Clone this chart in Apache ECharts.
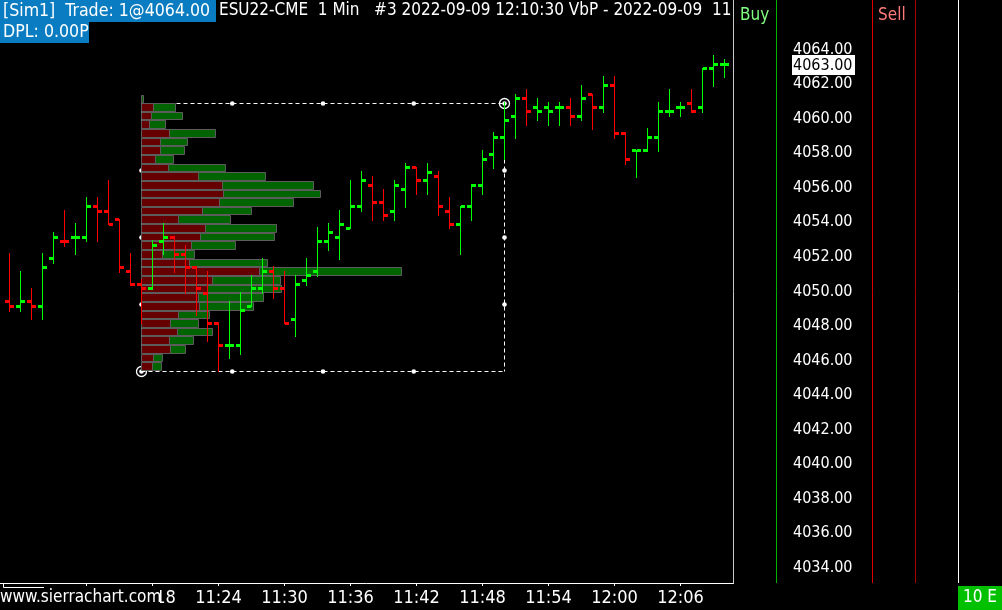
<!DOCTYPE html>
<html>
<head>
<meta charset="utf-8">
<script src="https://cdn.jsdelivr.net/npm/echarts@6/dist/echarts.min.js"></script>
<style>
html,body{margin:0;padding:0;background:#000;}
#c{width:1002px;height:610px;}
</style>
</head>
<body>
<div id="c"></div>
<script>
// ---------- DATA ----------
const times = ['11:05','11:06','11:07','11:08','11:09','11:10','11:11','11:12','11:13','11:14',
  '11:15','11:16','11:17','11:18','11:19','11:20','11:21','11:22','11:23','11:24',
  '11:25','11:26','11:27','11:28','11:29','11:30','11:31','11:32','11:33','11:34',
  '11:35','11:36','11:37','11:38','11:39','11:40','11:41','11:42','11:43','11:44',
  '11:45','11:46','11:47','11:48','11:49','11:50','11:51','11:52','11:53','11:54',
  '11:55','11:56','11:57','11:58','11:59','12:00','12:01','12:02','12:03','12:04',
  '12:05','12:06','12:07','12:08','12:09','12:10'];
const opens = [4049.25,4049,4049.25,4049,4051.75,4052.75,4053,4053,4054.75,4054.5,
  4054,4051,4050.25,4050,4052.75,4053,4052,4051.25,4049.75,4048,
  4046.75,4046.75,4049,4050,4051,4050,4048.25,4050.5,4051,4052.75,
  4053,4053.5,4054.75,4056,4055,4054.5,4055.75,4057,4056.25,4056.5,
  4054.5,4053.75,4054.75,4056,4057.75,4058.75,4060,4061,4060.5,4060.5,
  4060.5,4060.5,4060,4061.25,4060.5,4061.75,4059,4058,4058,4058.75,
  4060.25,4060.5,4060.75,4060.5,4062.75,4063];
const highs = [4052,4051,4050,4052,4053.25,4054.5,4053.75,4055.25,4055.25,4056.25,
  4054,4052,4050.5,4052.75,4053.75,4053,4052.5,4051.25,4051,4048,
  4049.25,4049.75,4050.75,4051.75,4051.25,4051,4050.75,4051.75,4053.5,4053.75,
  4054.5,4056.25,4056.75,4056.5,4055.75,4056.25,4057.25,4057,4057.25,4056.75,
  4055.25,4054.75,4056,4058,4059,4060.75,4061.25,4061.5,4061,4060.75,
  4060.75,4061,4061.75,4061.25,4062.25,4062.25,4059,4058,4059.25,4060.75,
  4061.5,4060.75,4061.5,4062.75,4063.5,4063.25];
const lows = [4048.75,4048.75,4048.25,4048.25,4051.5,4052.5,4052,4052.75,4052.75,4053.75,
  4051,4050.25,4048,4050,4052,4051,4049.75,4048.5,4047,4045.25,
  4046,4046.25,4049,4049.75,4049.5,4048,4047.25,4050.25,4050.75,4052.25,
  4051.75,4053.5,4054.5,4054,4054,4054,4054.75,4055.5,4055.5,4054.25,
  4053.5,4052,4054,4055.5,4057,4057.5,4058.75,4059.5,4059.75,4059.5,
  4059.5,4059.5,4059.75,4059.25,4060.25,4058.75,4057.25,4056.5,4058,4058,
  4060,4060,4060.25,4060.25,4061.75,4062.25];
const closes = [4049,4049.25,4049,4051.25,4053,4052.75,4053,4054.75,4054.5,4053.75,
  4051.25,4050.25,4050,4052.5,4053,4052,4051.25,4050,4048,4046.75,
  4046.75,4048.75,4050,4051,4050,4048,4050.25,4050.75,4052.75,4053.25,
  4053.75,4054.75,4056.25,4055,4054.25,4056,4057,4056.25,4056.75,4054.75,
  4053.75,4054.75,4056,4057.5,4058.75,4059.75,4061,4060.25,4060.25,4060.25,
  4060.5,4060,4061,4060.5,4061.75,4059,4057.5,4058,4058.75,4060.25,
  4060.25,4060.5,4060.25,4062.75,4063,4063];

// Volume by price profile (rows of 0.5 pt), bid (sell) and ask (buy) volume
const profilePrices = [4061,4060.5,4060,4059.5,4059,4058.5,4058,4057.5,4057,4056.5,
  4056,4055.5,4055,4054.5,4054,4053.5,4053,4052.5,4052,4051.5,
  4051,4050.5,4050,4049.5,4049,4048.5,4048,4047.5,4047,4046.5,4046,4045.5];
const bidVol = [0,12,10,8,28,19,19,14,27,57,81,82,78,61,37,64,59,50,21,48,118,71,66,57,58,37,29,36,28,29,12,11];
const askVol = [2,22,31,16,46,27,24,18,57,67,91,97,74,49,52,71,74,44,32,78,142,68,74,65,54,31,28,35,24,15,9,9];
const vbpStart = '11:17';
const vbpEnd = '11:50';

const timeTicks = ['11:12','11:18','11:24','11:30','11:36','11:42','11:48','11:54','12:00','12:06'];
const priceTicks = [4034,4036,4038,4040,4042,4044,4046,4048,4050,4052,4054,4056,4058,4060,4062,4064];

// ---------- HELPERS ----------
const toMin = s => { const p = s.split(':').map(Number); return p[0]*60 + p[1]; };
const fmtMin = v => Math.floor(v/60) + ':' + String(Math.round(v) % 60).padStart(2,'0');
const F = '"DejaVu Sans Condensed", "DejaVu Sans", sans-serif';
const UP = '#00ff00', DOWN = '#ff0000';

const barData = times.map((t,i) => [toMin(t), opens[i], highs[i], lows[i], closes[i],
  (i === 0 ? closes[i] >= opens[i] : closes[i] >= closes[i-1]) ? 1 : 0]);
const profData = profilePrices.map((p,i) => [p, bidVol[i], askVol[i]]);
const s0 = times.indexOf(vbpStart), s1 = times.indexOf(vbpEnd);
const vbpHigh = Math.max(...highs.slice(s0, s1+1));
const vbpLow = Math.min(...lows.slice(s0, s1+1));
const rangeData = [[toMin(vbpStart), toMin(vbpEnd), vbpLow, vbpHigh]];
const lastData = [[toMin(times[times.length-1]), closes[closes.length-1]]];

const X_MIN = 664.136, X_MAX = 730.818, Y_MIN = 4032.981, Y_MAX = 4066.72;

const chart = echarts.init(document.getElementById('c'), null, {renderer:'canvas'});

function txt(text, x, y, color, size, extra) {
  return Object.assign({type:'text', silent:true, z:100, style:{text, x, y, fill:color,
    font: size + 'px ' + F, fontSize:size, fontFamily:F,
    align:'left', verticalAlign:'middle', textAlign:'left', textVerticalAlign:'middle'}}, extra||{});
}
function rect(x,y,w,h,fill,z) { return {type:'rect', silent:true, z:z||99, shape:{x,y,width:w,height:h}, style:{fill}}; }
function vline(x,y1,y2,color,z) { return {type:'line', silent:true, z:z||101, shape:{x1:x,y1,x2:x,y2}, style:{stroke:color, lineWidth:1}}; }

const option = {
  animation:false,
  backgroundColor:'#000',
  grid:[
    {left:0, top:0, width:733.5, height:583, containLabel:false},
    {left:141, top:0, width:600, height:583, containLabel:false}
  ],
  xAxis:[
    {gridIndex:0, type:'value', min:X_MIN, max:X_MAX,
     axisLine:{show:true, lineStyle:{color:'#ffffff', width:1}},
     axisTick:{show:true, customValues: timeTicks.map(toMin), length:3, lineStyle:{color:'#ffffff'}},
     axisLabel:{show:true, customValues: timeTicks.map(toMin), formatter: fmtMin, color:'#ffffff',
       fontFamily:F, fontSize:18, margin:6},
     splitLine:{show:false}},
    {gridIndex:1, type:'value', min:0, max:600, show:false}
  ],
  yAxis:[
    {gridIndex:0, type:'value', position:'right', min:Y_MIN, max:Y_MAX,
     axisLine:{show:false}, axisTick:{show:false}, splitLine:{show:false},
     axisLabel:{customValues: priceTicks, formatter: v => '{p|' + v.toFixed(2) + '}', color:'#ffffff',
       fontFamily:F, fontSize:16, margin:59.5,
       rich:{p:{fontFamily:F, fontSize:16, color:'#ffffff', padding:[5,0,0,0]}}}},
    {gridIndex:1, type:'value', min:Y_MIN, max:Y_MAX, show:false}
  ],
  series:[
    { // VbP range rectangle
      type:'custom', xAxisIndex:0, yAxisIndex:0, z:1, silent:true, clip:false,
      data: rangeData,
      renderItem:(params, api) => {
        const a = api.coord([api.value(0), api.value(3)]);
        const b = api.coord([api.value(1), api.value(2)]);
        const x1 = Math.floor(a[0]) + 0.5, x2 = Math.floor(b[0]) + 0.5;
        const y1 = Math.round(a[1]) + 0.5, y2 = Math.round(b[1]) + 0.5;
        const ds = {stroke:'#ffffff', lineWidth:1, lineDash:[4,3]};
        const ch = [
          {type:'line', shape:{x1, y1, x2, y2:y1}, style:ds},
          {type:'line', shape:{x1, y1:y2, x2, y2}, style:ds},
          {type:'line', shape:{x1, y1, x2:x1, y2}, style:ds},
          {type:'line', shape:{x1:x2, y1, x2, y2}, style:ds}
        ];
        [0.25,0.5,0.75].forEach(f => {
          const xm = x1 + (x2-x1)*f, ym = y1 + (y2-y1)*f;
          ch.push({type:'circle', shape:{cx:xm, cy:y1, r:2.3}, style:{fill:'#fff'}});
          ch.push({type:'circle', shape:{cx:xm, cy:y2, r:2.3}, style:{fill:'#fff'}});
          ch.push({type:'circle', shape:{cx:x1, cy:ym, r:2.3}, style:{fill:'#fff'}});
          ch.push({type:'circle', shape:{cx:x2, cy:ym, r:2.3}, style:{fill:'#fff'}});
        });
        [[x1,y2],[x2,y1]].forEach(p => {
          ch.push({type:'circle', shape:{cx:p[0], cy:p[1], r:5}, style:{fill:'none', stroke:'#fff', lineWidth:1.3}});
          ch.push({type:'circle', shape:{cx:p[0], cy:p[1], r:2.3}, style:{fill:'#fff'}});
        });
        return {type:'group', children:ch};
      }
    },
    { // Volume profile
      type:'custom', xAxisIndex:1, yAxisIndex:1, z:2, silent:true, clip:false,
      data: profData,
      renderItem:(params, api) => {
        const p = api.value(0), b = api.value(1), a = api.value(2);
        const yt = Math.round(api.coord([0, p + 0.25])[1]);
        const yb = Math.round(api.coord([0, p - 0.25])[1]);
        const x0 = Math.floor(api.coord([0, p])[0]);
        const xb = Math.round(api.coord([b, p])[0]);
        const xa = Math.round(api.coord([b + a, p])[0]);
        const ch = [];
        const border = '#5c5c5c';
        if (b > 0) ch.push({type:'rect', shape:{x:x0+0.5, y:yt+0.5, width:xb-x0, height:yb-yt-1},
          style:{fill:'#660000', stroke:border, lineWidth:1}});
        if (a > 0) ch.push({type:'rect', shape:{x:xb+0.5, y:yt+0.5, width:xa-xb, height:yb-yt-1},
          style:{fill:'#006400', stroke:border, lineWidth:1}});
        return {type:'group', children:ch};
      }
    },
    { // OHLC bars
      type:'custom', xAxisIndex:0, yAxisIndex:0, z:3, silent:true, clip:true,
      data: barData,
      renderItem:(params, api) => {
        const t = api.value(0);
        const pO = api.coord([t, api.value(1)]), pH = api.coord([t, api.value(2)]);
        const pL = api.coord([t, api.value(3)]), pC = api.coord([t, api.value(4)]);
        const color = api.value(5) ? UP : DOWN;
        const cx = Math.floor(pH[0]);
        const yh = Math.round(pH[1]) - 1, yl = Math.round(pL[1]) + 1;
        return {type:'group', children:[
          {type:'rect', shape:{x:cx, y:yh, width:1, height:yl-yh}, style:{fill:color}},
          {type:'rect', shape:{x:cx-4, y:Math.round(pO[1]-1.5), width:4, height:3}, style:{fill:color}},
          {type:'rect', shape:{x:cx+1, y:Math.round(pC[1]-1.5), width:4, height:3}, style:{fill:color}}
        ]};
      }
    },
    { // last price marker on price scale
      type:'custom', xAxisIndex:0, yAxisIndex:0, z:5, silent:true, clip:false,
      data: lastData,
      renderItem:(params, api) => {
        const y = Math.round(api.coord([api.value(0), api.value(1)])[1]);
        return {type:'group', children:[
          {type:'rect', shape:{x:792, y:y-9, width:63, height:20}, style:{fill:'#ffffff'}},
          {type:'text', style:{text: api.value(1).toFixed(2), x:793, y:y+2, fill:'#000000',
            font:'16px ' + F, fontSize:16, fontFamily:F,
            align:'left', verticalAlign:'middle', textAlign:'left', textVerticalAlign:'middle'}}
        ]};
      }
    }
  ],
  graphic:[
    // header
    rect(0,0,216,22,'#0a7cc1',98),
    rect(0,22,89,21,'#0a7cc1',98),
    txt('[Sim1]  Trade: 1@4064.00', 3, 11, '#ffffff', 17.6),
    txt('ESU22-CME  1 Min   #3 2022-09-09 12:10:30 VbP - 2022-09-09  11:17:00', 219, 11, '#ffffff', 17),
    txt('DPL: 0.00P', 3, 32, '#ffffff', 17.6),
    rect(734,0,268,22,'#000000',100.5),
    // right panel separators
    vline(733.5,0,583,'#c8c8c8',101),
    vline(776.5,0,583,'#00b400',101),
    vline(872.5,0,583,'#e00000',101),
    vline(915.5,0,583,'#a80000',101),
    vline(958.5,0,583,'#ffffff',101),
    txt('Buy', 740, 16, '#80ff80', 17, {z:102}),
    txt('Sell', 878, 16, '#ff7a7a', 17, {z:102}),
    // bottom
    rect(0,588,160,22,'#000000',100),
    txt('www.sierrachart.com', 0, 598, '#ffffff', 17, {z:101}),
    {type:'polyline', silent:true, z:101, shape:{points:[[3.5,583],[3.5,587.5],[44,587.5]]}, style:{stroke:'#ffffff', lineWidth:1, fill:'none'}},
    rect(958,586,44,24,'#00c000',100),
    txt('10 E', 980, 598, '#ffffff', 17, {z:101, style:{text:'10 E', x:980, y:598, fill:'#ffffff', font:'17px ' + F, fontSize:17, fontFamily:F, align:'center', verticalAlign:'middle', textAlign:'center', textVerticalAlign:'middle'}})
  ]
};
chart.setOption(option);
</script>
</body>
</html>
